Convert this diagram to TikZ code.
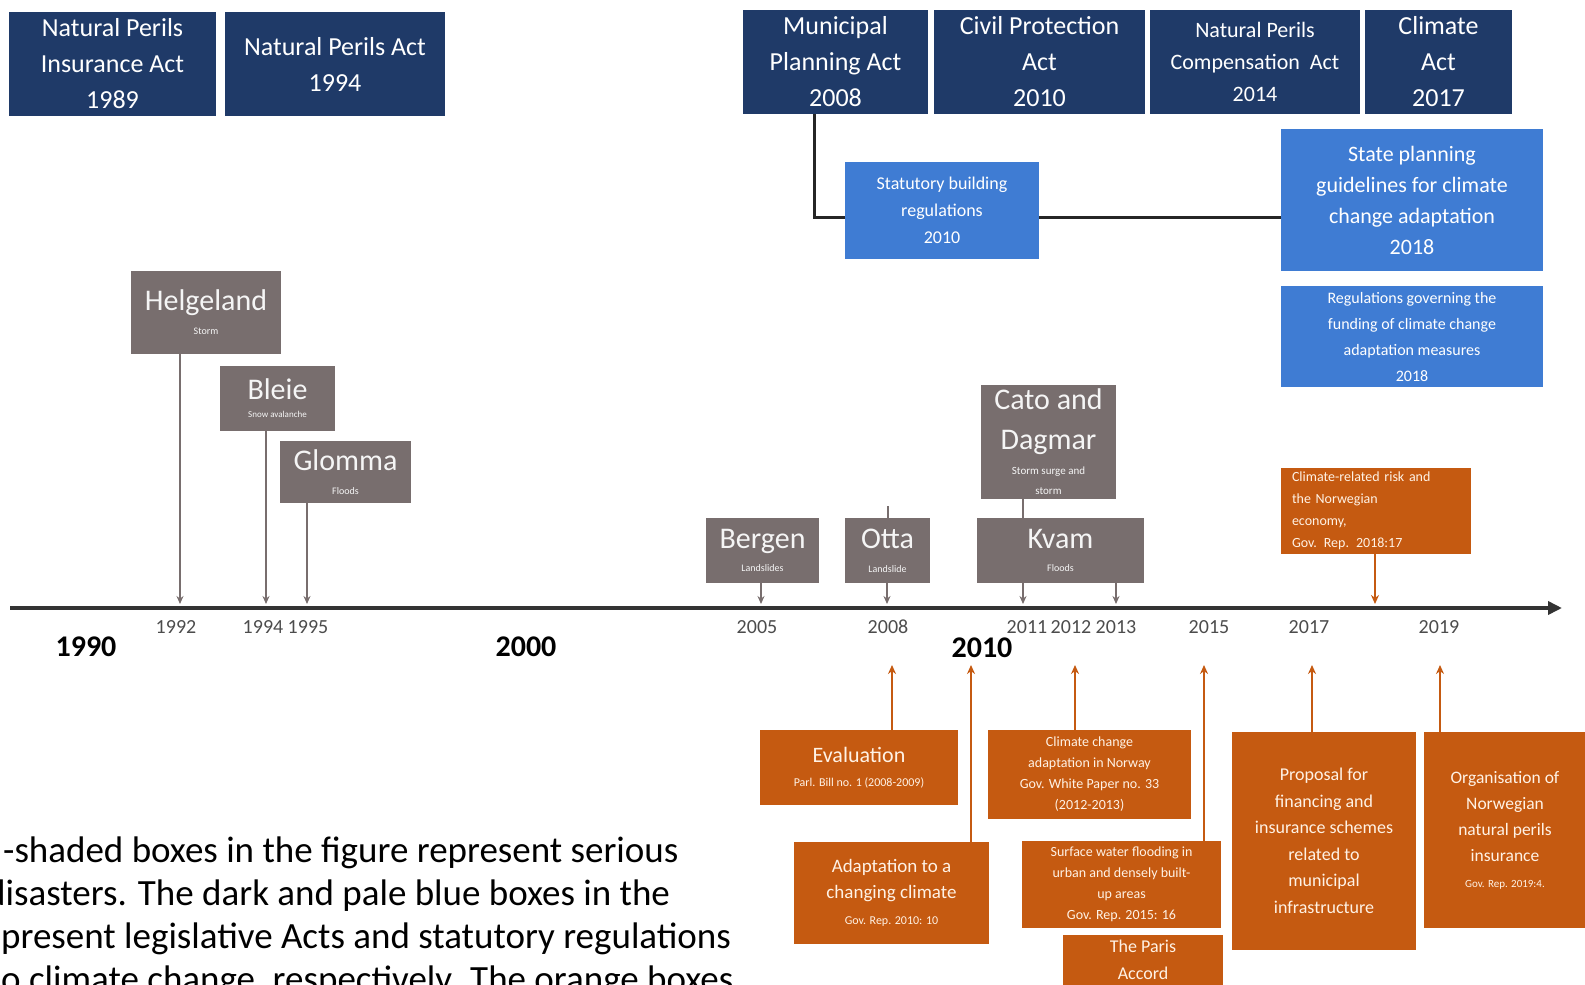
\documentclass[tikz,border=0pt]{standalone}
\usepackage{fontspec}
\setmainfont{Carlito}
\usepackage{tikz}
\usetikzlibrary{arrows.meta}
\definecolor{actnavy}{HTML}{1F3A68}
\definecolor{regblue}{HTML}{3F7CD3}
\definecolor{eventgrey}{HTML}{786E6E}
\definecolor{reportorange}{HTML}{C55A11}
\definecolor{axisdark}{HTML}{333333}
\newcommand{\fs}[2]{\fontsize{#1}{#2}\selectfont}

\begin{document}
\begin{tikzpicture}[x=1pt,y=-1pt,
  actbox/.style={fill=actnavy, text=white, align=center, inner sep=0pt, font=\fs{26}{36}},
  regbox/.style={fill=regblue, text=white, align=center, inner sep=0pt},
  eventbox/.style={fill=eventgrey, text=white!92!gray, align=center, inner sep=0pt, font=\fs{30}{34}},
  reportbox/.style={fill=reportorange, text=white!90!orange, align=center, inner sep=0pt},
  regline/.style={draw=black!85, line width=2.2pt},
  eventarrow/.style={draw=eventgrey, line width=2pt, -{Stealth[length=8pt,width=7pt]}},
  reportarrow/.style={draw=reportorange, line width=2.4pt, -{Stealth[length=9pt,width=8pt]}},
  yearlabel/.style={text=black!70, font=\fs{20}{22}},
  decade/.style={font=\bfseries\fs{30}{32}}]

\useasboundingbox (0,0) rectangle (1585,985);
\clip (0,0) rectangle (1585,985);

% Acts
\node[actbox, minimum width=207pt, minimum height=104pt] (ins89) at (112.5,64) {Natural Perils\\Insurance Act\\1989};
\node[actbox, minimum width=220pt, minimum height=104pt] (act94) at (335,64) {Natural Perils Act\\1994};
\node[actbox, minimum width=185pt, minimum height=104pt] (plan08) at (835.5,62) {Municipal\\Planning Act\\2008};
\node[actbox, minimum width=211pt, minimum height=104pt] (civil10) at (1039.5,62) {Civil Protection\\Act\\2010};
\node[actbox, minimum width=210pt, minimum height=104pt, font=\fs{22}{32}] (comp14) at (1255,62) {Natural Perils\\Compensation\ \ Act\\2014};
\node[actbox, minimum width=147pt, minimum height=104pt] (climate17) at (1438.5,62) {Climate\\Act\\2017};

% Regulations
\node[regbox, minimum width=194pt, minimum height=97pt, font=\fs{18}{27}] (build10) at (942,210.5) {Statutory building\\regulations\\2010};
\node[regbox, minimum width=262pt, minimum height=142pt, font=\fs{22}{31}] (guide18) at (1412,200) {State planning\\guidelines for climate\\change adaptation\\2018};
\node[regbox, minimum width=262pt, minimum height=101pt, font=\fs{16}{26}] (fund18) at (1412,336.5) {Regulations governing the\\funding of climate change\\adaptation measures\\2018};
\draw[regline] ([xshift=-21pt]plan08.south) |- ([yshift=-7pt]build10.west);
\draw[regline] ([yshift=-7pt]build10.east) -- ([yshift=-7pt]build10.east -| guide18.west);

% Timeline
\coordinate (start) at (10,608);
\coordinate (end) at (1562,608);
\draw[draw=axisdark, line width=4pt, -{Triangle[length=14pt,width=13pt]}] (start) -- (end);

\foreach \yr/\xx in {1992/176,1994/263,1995/308,2005/757,2008/888,2011/1027,2012/1071,2013/1116,2015/1209,2017/1309,2019/1439}
    \node[yearlabel] (yl\yr) at (\xx,627) {\yr};
\node[decade] (d1990) at (86,647) {1990};
\node[decade] (d2000) at (526,647) {2000};
\node[decade] (d2010) at (982,648) {2010};

% Disasters
\node[eventbox, minimum width=150pt, minimum height=83pt] (helgeland) at (206,312.5) {Helgeland\\[-10pt]\fs{10}{12}Storm};
\node[eventbox, minimum width=115pt, minimum height=65pt] (bleie) at (277.5,398.5) {Bleie\\[-16pt]\fs{9}{11}Snow avalanche};
\node[eventbox, minimum width=131pt, minimum height=62pt] (glomma) at (345.5,472) {Glomma\\[-10pt]\fs{10}{12}Floods};
\node[eventbox, minimum width=113pt, minimum height=65pt] (bergen) at (762.5,550.5) {Bergen\\[-11pt]\fs{10}{12}Landslides};
\node[eventbox, minimum width=85pt, minimum height=65pt] (otta) at (887.5,550.5) {Otta\\[-10pt]\fs{10}{12}Landslide};
\node[eventbox, minimum width=135pt, minimum height=114pt, font=\fs{30}{40}] (cato) at (1048.5,442) {Cato and\\Dagmar\\[-15pt]\fs{11}{16}Storm surge and\\[-20pt]\fs{11}{16}storm};
\node[eventbox, minimum width=167pt, minimum height=65pt] (kvam) at (1060.5,550.5) {Kvam\\[-11pt]\fs{10}{12}Floods};

\coordinate (e92) at (180,604);
\coordinate (e94) at (266,604);
\coordinate (e95) at (307,604);
\coordinate (e05) at (761,604);
\coordinate (e08) at (887,604);
\coordinate (e11) at (1023,604);
\coordinate (e13) at (1116,604);
\draw[eventarrow] (helgeland.south -| e92) -- (e92);
\draw[eventarrow] (bleie.south -| e94) -- (e94);
\draw[eventarrow] (glomma.south -| e95) -- (e95);
\draw[eventarrow] (bergen.south -| e05) -- (e05);
\draw[eventarrow] (otta.south -| e08) -- (e08);
\draw[eventarrow] (kvam.south -| e11) -- (e11);
\draw[eventarrow] (kvam.south -| e13) -- (e13);
\draw[draw=eventgrey, line width=2pt] (cato.south -| e11) -- (kvam.north -| e11);
\draw[draw=eventgrey, line width=2pt] (otta.north) -- ++(0,-12);

% Reports
\node[reportbox, minimum width=190pt, minimum height=86pt, text width=168pt, align=left, font=\fs{14}{22}] (risk18) at (1376,511) {Climate-related risk and\\the Norwegian\\economy,\\Gov. Rep. 2018:17};
\coordinate (r18) at (1375,604);
\draw[reportarrow] (risk18.south -| r18) -- (r18);

\node[reportbox, minimum width=198pt, minimum height=75pt, font=\fs{22}{24}] (eval) at (859,767.5) {Evaluation\\\fs{12}{14}Parl. Bill no. 1 (2008-2009)};
\node[reportbox, minimum width=195pt, minimum height=102pt, font=\fs{19}{26}] (adapt) at (891.5,893) {Adaptation to a\\changing climate\\\fs{12}{20}Gov. Rep. 2010: 10};
\node[reportbox, minimum width=203pt, minimum height=89pt, font=\fs{14}{21}] (norway) at (1089.5,774.5) {Climate change\\adaptation in Norway\\Gov. White Paper no. 33\\(2012-2013)};
\node[reportbox, minimum width=199pt, minimum height=87pt, font=\fs{14}{21}] (surface) at (1121.5,884.5) {Surface water flooding in\\urban and densely built-\\up areas\\Gov. Rep. 2015: 16};
\node[reportbox, minimum width=160pt, minimum height=50pt, font=\fs{18}{27}] (paris) at (1143,960) {The Paris\\Accord};
\node[reportbox, minimum width=184pt, minimum height=218pt, font=\fs{18}{26.5}] (proposal) at (1324,841) {Proposal for\\financing and\\insurance schemes\\related to\\municipal\\infrastructure};
\node[reportbox, minimum width=162pt, minimum height=196pt, font=\fs{17.5}{26}] (organ) at (1505,830) {Organisation of\\Norwegian\\natural perils\\insurance\\\fs{11}{18}Gov. Rep. 2019:4.};

\coordinate (r08) at (892,665);
\coordinate (r10) at (971,665);
\coordinate (r12) at (1075,665);
\coordinate (r15) at (1204,665);
\coordinate (r17) at (1312,665);
\coordinate (r19) at (1440,665);
\draw[reportarrow] (eval.north -| r08) -- (r08);
\draw[reportarrow] (adapt.north -| r10) -- (r10);
\draw[reportarrow] (norway.north -| r12) -- (r12);
\draw[reportarrow] (surface.north -| r15) -- (r15);
\draw[reportarrow] (proposal.north -| r17) -- (r17);
\draw[reportarrow] (organ.north -| r19) -- (r19);

% Caption fragment
\node[anchor=base west, inner sep=0pt, font=\fs{37}{43}] (cap1) at (3,862) {-shaded boxes in the figure represent serious};
\node[anchor=base west, inner sep=0pt, font=\fs{37}{43}] (cap2) at (-14,905) {disasters. The dark and pale blue boxes in the};
\node[anchor=base west, inner sep=0pt, font=\fs{37}{43}] (cap3) at (1,948) {present legislative Acts and statutory regulations};
\node[anchor=base west, inner sep=0pt, font=\fs{37}{43}] (cap4) at (1,991) {o climate change, respectively. The orange boxes};
\end{tikzpicture}
\end{document}
